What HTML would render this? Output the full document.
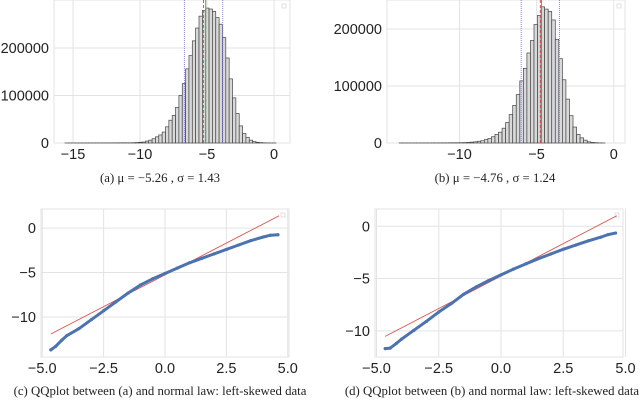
<!DOCTYPE html>
<html><head><meta charset="utf-8"><style>
body{margin:0;background:#fff;}
svg{display:block;font-family:"Liberation Sans",sans-serif;}
.cap{font-family:"Liberation Serif",serif;font-size:12.8px;fill:#222;}
.tk{font-size:14.5px;fill:#222;}
</style></head><body>
<svg id="fig" width="640" height="401"></svg>
<script>
const histAStart = -15.6, histAWidth = 0.25;
const histACounts = [100,100,100,100,100,150,150,150,200,200,200,250,250,300,300,350,400,450,400,400,600,1000,1500,2000,4000,6000,9000,13000,17000,23000,34000,48000,58000,75000,100000,125000,156000,184000,215000,242000,267000,279000,284000,282000,277000,264000,250000,222000,179000,135000,95000,62000,36000,20000,12000,6000,3000,1500,800,400,200,100,50];
const histBStart = -13.91, histBWidth = 0.23;
const histBCounts = [100,100,100,100,100,100,150,150,150,200,200,250,300,300,400,400,450,500,700,1000,1500,2000,3000,4000,6000,8000,11000,15000,19000,26000,36000,50000,66000,85000,109000,131000,158000,180000,208000,224000,239000,235000,231000,216000,182000,148000,111000,77000,48000,28000,15000,9000,5000,2000,1000,500,200,100];
const statsA = {mean:-5.26, median:-5.1, sd:1.43};
const statsB = {mean:-4.76, median:-4.68, sd:1.24};
const qqTheoretical = [-4.65,-4.45,-4.2,-4.0,-3.5,-3.0,-2.5,-2.0,-1.5,-1.0,-0.5,0,0.5,1.0,1.5,2.0,2.5,3.0,3.5,4.0,4.3,4.6];
const qqASample = [-13.7,-13.3,-12.6,-12.1,-11.3,-10.3,-9.3,-8.3,-7.3,-6.4,-5.7,-5.1,-4.5,-3.9,-3.4,-2.9,-2.4,-1.9,-1.4,-1.0,-0.8,-0.75];
const qqBSample = [-11.7,-11.65,-11.2,-10.8,-9.95,-9.1,-8.2,-7.4,-6.5,-5.8,-5.2,-4.65,-4.1,-3.6,-3.1,-2.65,-2.2,-1.8,-1.4,-1.05,-0.8,-0.65];
const histAXTicks = [-15,-10,-5,0], histAYTicks = [0,100000,200000];
const histBXTicks = [-10,-5,0], histBYTicks = [0,100000,200000];
const qqXTicks = ["-5.0","-2.5","0.0","2.5","5.0"], qqYTicks = [0,-5,-10];

const NS="http://www.w3.org/2000/svg", fig=document.getElementById('fig');
function mk(tag,attrs,parent){const e=document.createElementNS(NS,tag);for(const k in attrs)e.setAttribute(k,attrs[k]);(parent||fig).appendChild(e);return e;}
function fmt(v){return String(v).replace('-','\u2212');}

function panel(p){
  const g=mk('g',{});
  
  
  const sx=v=>p.x0+(v-p.xmin)/(p.xmax-p.xmin)*(p.x1-p.x0);
  const sy=v=>p.y1-(v-p.ymin)/(p.ymax-p.ymin)*(p.y1-p.y0);
  const bg=mk('rect',{x:p.x0,y:p.y0,width:p.x1-p.x0,height:p.y1-p.y0,fill:'#fff',stroke:'#e3e3e3','stroke-width':1},g);
  
  p.xt.forEach(t=>{const v=parseFloat(t);const x=sx(v);
    const l=mk('line',{x1:x,x2:x,y1:p.y0,y2:p.y1,stroke:'#e3e3e3'},g);
    
    const tx=mk('text',{x:x,y:p.y1+16,'text-anchor':'middle',class:'tk'},g);tx.textContent=fmt(t);
    });
  p.yt.forEach(t=>{const y=sy(t);
    const l=mk('line',{x1:p.x0,x2:p.x1,y1:y,y2:y,stroke:'#e3e3e3'},g);
    
    const tx=mk('text',{x:p.x0-5,y:y+5,'text-anchor':'end',class:'tk'},g);tx.textContent=fmt(t);
    });
  const lg=mk('rect',{x:p.x1-8,y:p.y0+4,width:4,height:4,fill:'none',stroke:'#ccc','stroke-width':0.6},g);
  
  const c=mk('text',{x:p.capX,y:p.capY,'text-anchor':'middle',class:'cap'},g);c.textContent=p.cap;
  
  return {g,sx,sy};
}
function hist(p,start,w,counts,st){
  const {g,sx,sy}=panel(p);
  counts.forEach((c,i)=>{const a=start+i*w;
    const r=mk('rect',{x:sx(a),y:sy(c),width:sx(a+w)-sx(a),height:sy(0)-sy(c),fill:'#d9d9d9',stroke:'#444','stroke-width':0.7},g);
    });
  [[st.mean-st.sd,'#8888cc','1,1'],[st.mean+st.sd,'#8888cc','1,1'],[st.median,'#4caf50','none'],[st.mean,'#d9534f','3,2']].forEach(([v,col,d])=>{
    const l=mk('line',{x1:sx(v),x2:sx(v),y1:p.y0,y2:p.y1,stroke:col,'stroke-width':1,'stroke-dasharray':d},g);
    });
}
function qq(p,sample,st){
  const {g,sx,sy}=panel(p);
  const xa=-4.65,xb=4.65;
  const rl=mk('line',{x1:sx(xa),y1:sy(st.mean+st.sd*xa),x2:sx(xb),y2:sy(st.mean+st.sd*xb),stroke:'#d9534f','stroke-width':0.9},g);
  
  const pts=qqTheoretical.map((t,i)=>sx(t)+','+sy(sample[i])).join(' ');
  const pl=mk('polyline',{points:pts,fill:'none',stroke:'#4c72b0','stroke-width':3,'stroke-linecap':'round','stroke-linejoin':'round'},g);
  
  qqTheoretical.forEach((t,i)=>{const d=mk('circle',{cx:sx(t),cy:sy(sample[i]),r:1.6,fill:'#4c72b0'},g);
    });
}
hist({name:'histogram-a',x0:54,x1:290,y0:0,y1:143,xmin:-16.42,xmax:1.19,ymin:0,ymax:301000,xt:histAXTicks,yt:histAYTicks,cap:'(a) μ = −5.26 , σ = 1.43',capX:160,capY:182},histAStart,histAWidth,histACounts,statsA);
hist({name:'histogram-b',x0:387,x1:625,y0:0,y1:143,xmin:-14.7,xmax:0.73,ymin:0,ymax:251000,xt:histBXTicks,yt:histBYTicks,cap:'(b) μ = −4.76 , σ = 1.24',capX:495,capY:182},histBStart,histBWidth,histBCounts,statsB);
qq({name:'qqplot-c',x0:41,x1:289,y0:209,y1:357,xmin:-5.05,xmax:5.05,ymin:-14.5,ymax:2.15,xt:qqXTicks,yt:qqYTicks,cap:'(c) QQplot between (a) and normal law: left-skewed data',capX:160,capY:395},qqASample,statsA);
qq({name:'qqplot-d',x0:375,x1:623,y0:209,y1:357,xmin:-5.06,xmax:4.9,ymin:-12.5,ymax:1.65,xt:qqXTicks,yt:qqYTicks,cap:'(d) QQplot between (b) and normal law: left-skewed data',capX:492,capY:395},qqBSample,statsB);
</script>
</body></html>
